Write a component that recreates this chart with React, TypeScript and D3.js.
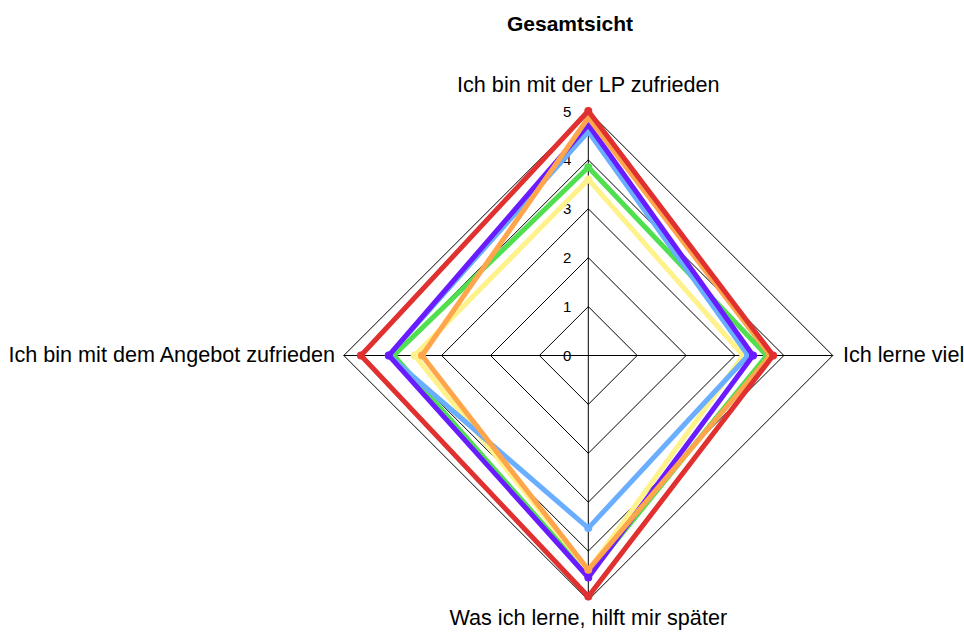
import React from "react";
import * as d3 from "d3";

const axes = [
  "Ich bin mit der LP zufrieden",
  "Ich lerne viel",
  "Was ich lerne, hilft mir später",
  "Ich bin mit dem Angebot zufrieden",
];
const ticks = [0, 1, 2, 3, 4, 5];
const seriesNames = ["Klasse A", "Klasse B", "Klasse C", "Klasse D", "Klasse E", "Klasse F"];
const seriesColors = ["#4fdf4f", "#fff28a", "#6aaeff", "#6a1bff", "#ffa64d", "#e03030"];
const greenValues = [3.85, 3.65, 4.49, 3.98];
const yellowValues = [3.6, 3.17, 4.4, 3.55];
const blueValues = [4.58, 3.27, 3.53, 4.08];
const purpleValues = [4.72, 3.37, 4.54, 4.08];
const orangeValues = [4.86, 3.72, 4.38, 3.4];
const redValues = [5.0, 3.78, 4.93, 4.65];
const seriesValues = [greenValues, yellowValues, blueValues, purpleValues, orangeValues, redValues];

export default function App() {
  const W = 964, H = 634;
  const cx = 588.3, cy = 355.5;
  const r = d3.scaleLinear().domain([0, 5]).range([0, 244.5]);
  const angle = (i: number) => (i * 2 * Math.PI) / axes.length;
  const pt = (i: number, v: number): [number, number] => [
    cx + r(v) * Math.sin(angle(i)),
    cy - r(v) * Math.cos(angle(i)),
  ];
  const line = d3.line<[number, number]>().curve(d3.curveLinearClosed);
  const font = "Liberation Sans, Arial, sans-serif";
  return (
    <svg width={W} height={H} style={{ position: "absolute", left: 0, top: 0 }} fontFamily={font}>
      <rect width={W} height={H} fill="#fff" />
      <text x={570} y={31} textAnchor="middle" fontSize={21} fontWeight="bold">Gesamtsicht</text>
      {ticks.slice(1).map((t) => (
        <path key={t} d={line(axes.map((_, i) => pt(i, t))) || ""} fill="none" stroke="#000" strokeWidth={1} />
      ))}
      {axes.map((_, i) => {
        const [x, y] = pt(i, 5);
        return <line key={i} x1={cx} y1={cy} x2={x} y2={y} stroke="#000" strokeWidth={1} />;
      })}
      {ticks.map((t) => (
        <text key={t} x={cx - 17} y={cy - r(t) + 5.5} textAnchor="end" fontSize={15}>{t}</text>
      ))}
      {seriesValues.map((vals, s) => (
        <g key={seriesNames[s]}>
          <path d={line(vals.map((v, i) => pt(i, v))) || ""} fill="none" stroke={seriesColors[s]} strokeWidth={5} strokeLinejoin="miter" />
          {vals.map((v, i) => {
            const [x, y] = pt(i, v);
            return <circle key={i} cx={x} cy={y} r={3} fill="none" stroke={seriesColors[s]} strokeWidth={2} />;
          })}
        </g>
      ))}
      <text x={cx} y={92} textAnchor="middle" fontSize={21.6}>{axes[0]}</text>
      <text x={843} y={362} textAnchor="start" fontSize={21.6}>{axes[1]}</text>
      <text x={cx} y={625} textAnchor="middle" fontSize={21.6}>{axes[2]}</text>
      <text x={335} y={362} textAnchor="end" fontSize={21.6}>{axes[3]}</text>
    </svg>
  );
}
